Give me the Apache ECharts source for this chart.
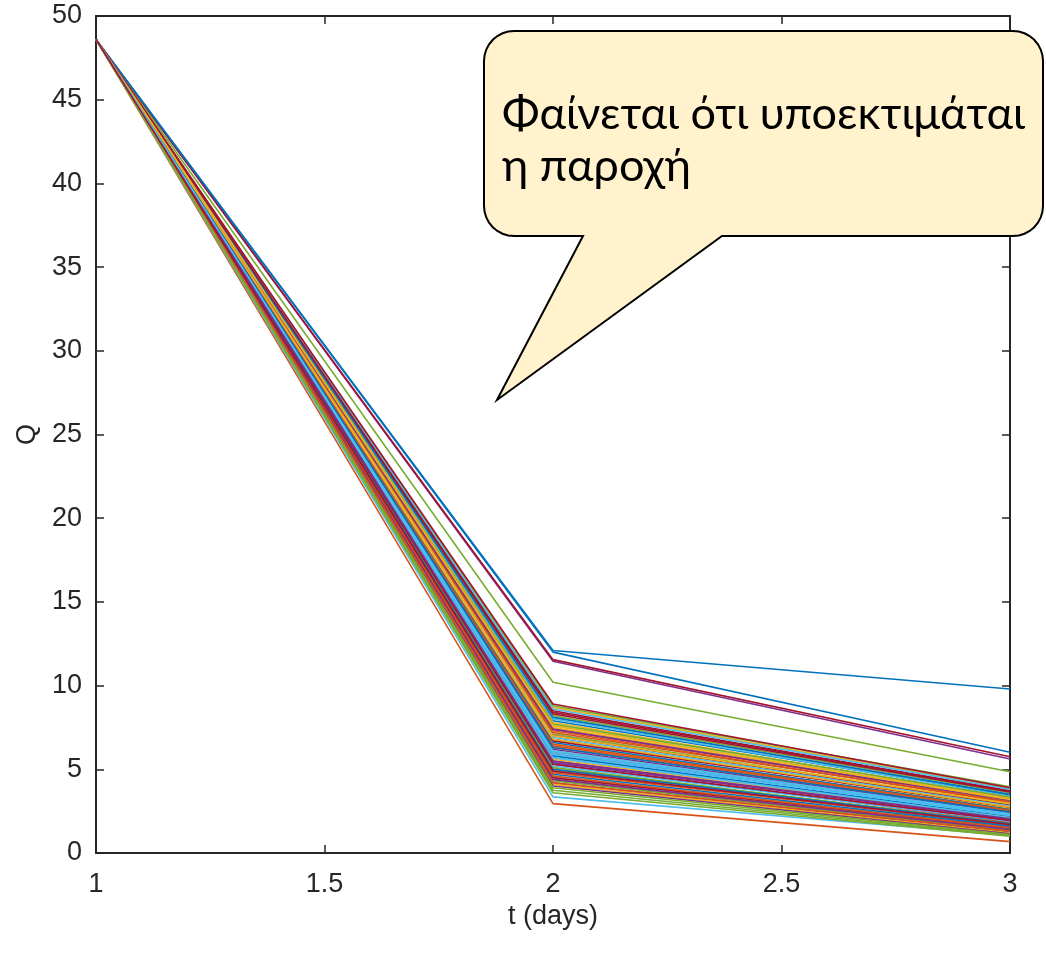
<!DOCTYPE html>
<html>
<head>
<meta charset="utf-8">
<title>Q vs t</title>
<script src="https://cdn.jsdelivr.net/npm/echarts@6/dist/echarts.min.js"></script>
<style>
  html, body { margin: 0; padding: 0; background: #ffffff; }
  #chart { width: 1046px; height: 958px; }
</style>
</head>
<body>
<div id="chart"></div>
<script>
// Time points (days)
const tDays = [1, 2, 3];
// Discharge at day 1 (common to every realisation)
const qDay1 = 48.6;
// Discharge at day 2, one entry per realisation
const qDay2 = [
  12.1, 2.95, 8.7, 11.45, 10.2, 3.35, 11.55, 12.0,
  7.4, 6.1, 5.3, 8.2, 4.6, 6.8, 7.9, 5.0, 6.5, 4.2, 7.1, 5.7,
  8.5, 4.9, 6.3, 7.6, 5.5, 4.4, 8.0, 6.7, 5.9, 7.3, 4.1, 6.0,
  8.8, 5.2, 7.0, 4.7, 6.4, 7.8, 5.4, 4.3, 6.9, 8.3, 5.8, 4.8,
  7.5, 6.2, 5.1, 8.6, 4.5, 6.6, 7.2, 5.6, 4.0, 7.7, 6.1, 5.3,
  8.1, 4.6, 6.8, 7.4, 3.9, 5.9, 8.4, 5.0, 6.5, 7.0, 4.4, 3.6,
  5.7, 8.9, 6.3, 4.2, 7.6, 5.5, 3.75, 6.0, 4.9
];
// Discharge at day 3, one entry per realisation
const qDay3 = [
  9.8, 0.68, 3.85, 5.62, 4.85, 1.05, 5.75, 6.02,
  3.1, 2.45, 1.85, 3.6, 1.55, 2.7, 3.45, 1.8, 2.65, 1.25, 2.9, 2.2,
  3.7, 1.65, 2.5, 3.25, 2.0, 1.45, 3.4, 2.75, 2.3, 3.0, 1.2, 2.35,
  3.95, 1.9, 2.85, 1.6, 2.55, 3.3, 2.05, 1.35, 2.8, 3.65, 2.15, 1.7,
  3.15, 2.4, 1.75, 3.8, 1.5, 2.6, 3.05, 2.1, 1.15, 3.35, 2.35, 1.95,
  3.5, 1.5, 2.75, 3.15, 1.1, 2.25, 3.7, 1.75, 2.55, 2.95, 1.4, 1.0,
  2.1, 3.9, 2.45, 1.3, 3.2, 2.05, 1.05, 2.3, 1.7
];
// Axis tick values
const xTicks = [1, 1.5, 2, 2.5, 3];
const yTicks = [0, 5, 10, 15, 20, 25, 30, 35, 40, 45, 50];

// Default colour order of the plotting package, cycled per line
const palette = ['#0072BD', '#D95319', '#EDB120', '#7E2F8E', '#77AC30', '#4DBEEE', '#A2142F'];

const axisColor = '#262626';
const tickFont = { fontFamily: '"Liberation Sans", Arial, sans-serif', fontSize: 27, color: '#262626' };

const series = qDay2.map((q2, i) => ({
  type: 'line',
  symbol: 'none',
  silent: true,
  data: [[tDays[0], qDay1], [tDays[1], q2], [tDays[2], qDay3[i]]],
  lineStyle: { width: 1.6, color: palette[i % palette.length] },
  z: 2
}));

const grid = { left: 96, right: 36, top: 16, bottom: 105 };

// Speech-bubble outline: rounded rectangle with a pointer towards the curves
const bL = 484, bT = 31, bR = 1043, bB = 236, rad = 30;
function arc(cx, cy, a0, a1) {
  const pts = [];
  for (let k = 0; k <= 8; k++) {
    const a = a0 + (a1 - a0) * k / 8;
    pts.push([cx + rad * Math.cos(a), cy + rad * Math.sin(a)]);
  }
  return pts;
}
const PI = Math.PI;
const bubblePoints = [].concat(
  arc(bL + rad, bT + rad, PI, 1.5 * PI),
  arc(bR - rad, bT + rad, 1.5 * PI, 2 * PI),
  arc(bR - rad, bB - rad, 0, 0.5 * PI),
  [[722, bB], [497, 400], [583, bB]],
  arc(bL + rad, bB - rad, 0.5 * PI, PI)
);

const chart = echarts.init(document.getElementById('chart'), null, { renderer: 'canvas' });
chart.setOption({
  animation: false,
  backgroundColor: '#ffffff',
  grid: grid,
  xAxis: [{
    type: 'value', min: xTicks[0], max: xTicks[xTicks.length - 1], interval: 0.5,
    name: 't (days)', nameLocation: 'middle', nameGap: 50,
    nameTextStyle: tickFont,
    axisLine: { show: true, onZero: false, lineStyle: { color: axisColor, width: 2 } },
    axisTick: { show: true, inside: true, length: 8, lineStyle: { color: axisColor, width: 1.5 } },
    axisLabel: Object.assign({ margin: 18 }, tickFont),
    splitLine: { show: false }
  }, {
    type: 'value', position: 'top', min: xTicks[0], max: xTicks[xTicks.length - 1], interval: 0.5,
    axisLine: { show: true, onZero: false, lineStyle: { color: axisColor, width: 2 } },
    axisTick: { show: true, inside: true, length: 8, lineStyle: { color: axisColor, width: 1.5 } },
    axisLabel: { show: false },
    splitLine: { show: false }
  }],
  yAxis: [{
    type: 'value', min: yTicks[0], max: yTicks[yTicks.length - 1], interval: 5,
    name: 'Q', nameLocation: 'middle', nameGap: 55, nameRotate: 90, nameMoveOverlap: false,
    nameTextStyle: tickFont,
    axisLine: { show: true, onZero: false, lineStyle: { color: axisColor, width: 2 } },
    axisTick: { show: true, inside: true, length: 8, lineStyle: { color: axisColor, width: 1.5 } },
    axisLabel: Object.assign({ margin: 14 }, tickFont),
    splitLine: { show: false }
  }, {
    type: 'value', position: 'right', min: yTicks[0], max: yTicks[yTicks.length - 1], interval: 5,
    axisLine: { show: true, onZero: false, lineStyle: { color: axisColor, width: 2 } },
    axisTick: { show: true, inside: true, length: 8, lineStyle: { color: axisColor, width: 1.5 } },
    axisLabel: { show: false },
    splitLine: { show: false }
  }],
  series: series,
  graphic: [{
    type: 'polygon',
    z: 100,
    shape: { points: bubblePoints },
    style: { fill: '#FFF2CC', stroke: '#000000', lineWidth: 2 }
  }, {
    type: 'text',
    z: 101,
    left: 502, top: 88,
    style: {
      text: 'Φαίνεται ότι υποεκτιμάται\nη παροχή',
      font: '45px Lato, "Noto Sans", sans-serif',
      lineHeight: 52,
      fill: '#000000'
    }
  }]
});
</script>
</body>
</html>
